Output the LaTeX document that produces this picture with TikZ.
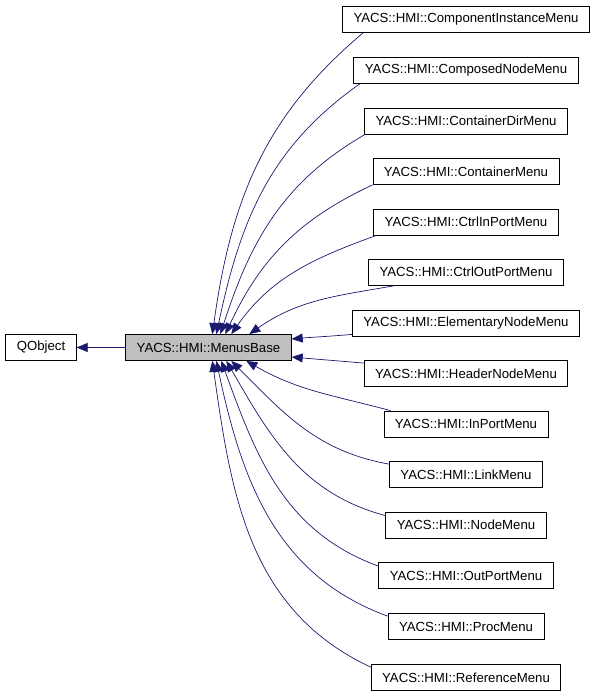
\documentclass[tikz,border=0pt]{standalone}
\usepackage{fontspec}
\setmainfont{Liberation Sans}
\usepackage{xcolor}
\usepackage{tikz}
\usetikzlibrary{calc, positioning, arrows.meta}

\definecolor{edgeblue}{HTML}{191970}
\definecolor{basegray}{HTML}{BFBFBF}

\begin{document}
\begin{tikzpicture}[x=1pt,y=1pt,
                    class node/.style={rectangle,draw=black,line width=0.8pt,fill=white,
                      minimum height=26pt,inner xsep=11pt,font=\fontsize{13.2}{15}\selectfont},
                    inherit/.style={draw=edgeblue,line width=0.7pt,<-,
                      >={Triangle[length=11pt,width=9pt]}}]

  \useasboundingbox (0,0) rectangle (596,-696);

  \node[class node] (qobject) at (41,-347.5) {QObject};
  \node[class node,fill=basegray] (base) at (208.5,-347.5) {YACS::HMI::MenusBase};

  \node[class node] (c1) at (466,-19.5) {YACS::HMI::ComponentInstanceMenu};
  \node[class node] (c2) at (466,-70) {YACS::HMI::ComposedNodeMenu};
  \node[class node] (c3) at (466,-121) {YACS::HMI::ContainerDirMenu};
  \node[class node] (c4) at (466,-171.5) {YACS::HMI::ContainerMenu};
  \node[class node] (c5) at (466,-222) {YACS::HMI::CtrlInPortMenu};
  \node[class node] (c6) at (466,-272) {YACS::HMI::CtrlOutPortMenu};
  \node[class node] (c7) at (466,-323) {YACS::HMI::ElementaryNodeMenu};
  \node[class node] (c8) at (466,-373.5) {YACS::HMI::HeaderNodeMenu};
  \node[class node] (c9) at (466,-424) {YACS::HMI::InPortMenu};
  \node[class node] (c10) at (466,-474.5) {YACS::HMI::LinkMenu};
  \node[class node] (c11) at (466,-525) {YACS::HMI::NodeMenu};
  \node[class node] (c12) at (466,-575.5) {YACS::HMI::OutPortMenu};
  \node[class node] (c13) at (466,-626.5) {YACS::HMI::ProcMenu};
  \node[class node] (c14) at (466,-677.5) {YACS::HMI::ReferenceMenu};

  % base class
  \draw[inherit] (qobject) -- (base);

  % upper children
  \draw[inherit] ([xshift=87pt]base.north west) to[out=82,in=220] ([xshift=21pt]c1.south west);
  \draw[inherit] ([xshift=91pt]base.north west) to[out=78,in=215] ([xshift=7pt]c2.south west);
  \draw[inherit] ([xshift=95pt]base.north west) to[out=72,in=210] ([xshift=1pt]c3.south west);
  \draw[inherit] ([xshift=100pt]base.north west) to[out=65,in=205] (c4.south west);
  \draw[inherit] ([xshift=106pt]base.north west) to[out=55,in=200] ([xshift=3pt]c5.south west);
  \draw[inherit] ([xshift=124pt]base.north west) to[out=35,in=190] ([xshift=28pt]c6.south west);
  \draw[inherit] ([yshift=8.5pt]base.east) to[out=5,in=185] ([yshift=2pt]c7.south west);

  % lower children
  \draw[inherit] ([yshift=-9.5pt]base.east) to[out=-5,in=175] ([yshift=-3pt]c8.north west);
  \draw[inherit] ([xshift=121pt]base.south west) to[out=-30,in=165] ([xshift=7pt]c9.north west);
  \draw[inherit] ([xshift=106pt]base.south west) to[out=-45,in=170] ([yshift=-3pt]c10.north west);
  \draw[inherit] ([xshift=101pt]base.south west) to[out=-60,in=165] ([yshift=-4pt]c11.north west);
  \draw[inherit] ([xshift=96pt]base.south west) to[out=-70,in=160] ([yshift=-4pt]c12.north west);
  \draw[inherit] ([xshift=91pt]base.south west) to[out=-78,in=160] ([yshift=-3pt]c13.north west);
  \draw[inherit] ([xshift=87pt]base.south west) to[out=-82,in=155] ([yshift=-3pt]c14.north west);

\end{tikzpicture}
\end{document}
